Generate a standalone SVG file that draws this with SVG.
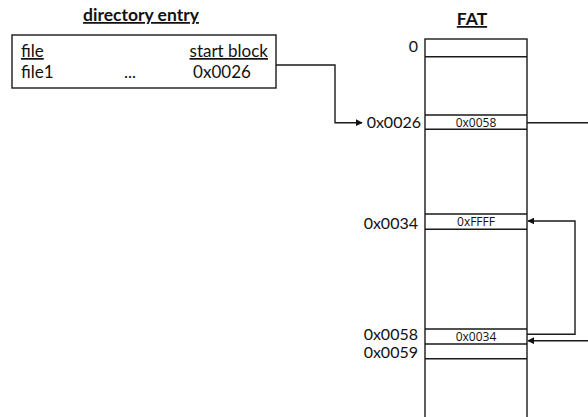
<svg xmlns="http://www.w3.org/2000/svg" width="588" height="417" viewBox="0 0 588 417">
<defs>
<style>
.ln{stroke:#1a1a1a;stroke-width:1.4;fill:none}
.tb{stroke:#1a1a1a;stroke-width:1.4;fill:#fff}
.title{font-family:Lato,"Liberation Sans",sans-serif;font-weight:bold;font-size:17.5px;text-decoration:underline;fill:#111}
.lbl{font-family:Lato,"Liberation Sans",sans-serif;font-size:16px;fill:#111}
.big{font-size:17px}
.u{text-decoration:underline}
.cell{font-family:"Open Sans","DejaVu Sans",sans-serif;font-size:12px;fill:#111}
</style>
<marker id="ah" viewBox="0 0 10 10" refX="9" refY="5" markerWidth="7" markerHeight="7" markerUnits="userSpaceOnUse" orient="auto">
<path d="M0,0 L10,5 L0,10 z" fill="#111"/>
</marker>
</defs>
<g id="directory">
<text class="title" x="141" y="21" text-anchor="middle">directory entry</text>
<rect class="tb" x="12" y="35" width="264" height="53"/>
<text class="lbl big u" x="21" y="57">file</text>
<text class="lbl big u" x="268" y="57" text-anchor="end">start block</text>
<text class="lbl big" x="21" y="78">file1</text>
<text class="lbl big" x="130" y="78" text-anchor="middle">...</text>
<text class="lbl big" x="222" y="78" text-anchor="middle">0x0026</text>
</g>
<g id="fat">
<text class="title" x="472" y="25" text-anchor="middle">FAT</text>
<rect class="tb" x="425" y="39" width="102" height="400"/>
<path class="ln" d="M425,56.7H527M425,115H527M425,129.3H527M425,214H527M425,229.3H527M425,329H527M425,344H527M425,358.7H527"/>
<text class="lbl" x="418" y="52" text-anchor="end">0</text>
<text class="lbl" x="421" y="128" text-anchor="end">0x0026</text>
<text class="lbl" x="418" y="229" text-anchor="end">0x0034</text>
<text class="lbl" x="418" y="340" text-anchor="end">0x0058</text>
<text class="lbl" x="418" y="358" text-anchor="end">0x0059</text>
<text class="cell" x="476" y="126.5" text-anchor="middle">0x0058</text>
<text class="cell" x="476" y="226" text-anchor="middle">0xFFFF</text>
<text class="cell" x="476" y="341" text-anchor="middle">0x0034</text>
</g>
<g id="connectors">
<path class="ln" d="M276,65H335V122.7H362" marker-end="url(#ah)"/>
<path class="ln" d="M527,122.7H590"/>
<path class="ln" d="M527,334.3H575V221H528" marker-end="url(#ah)"/>
<path class="ln" d="M590,340.7H528" marker-end="url(#ah)"/>
</g>
</svg>
